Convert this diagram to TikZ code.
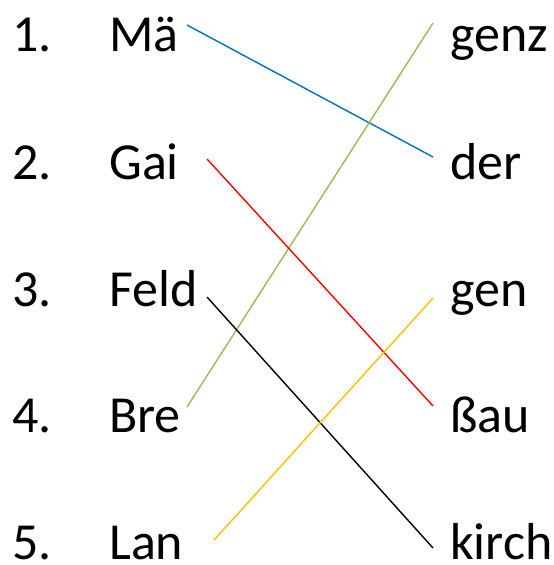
\documentclass[tikz,border=0pt]{standalone}
\usepackage{fontspec}
\setmainfont{Carlito}
\begin{document}
\begin{tikzpicture}[x=1bp,y=-1bp,
  lbl/.style={anchor=base west,inner sep=0pt,font=\fontsize{52bp}{60bp}\selectfont},
  conn/.style={line width=1.4bp}]
\useasboundingbox (0,0) rectangle (554,565);
\definecolor{cblue}{HTML}{0070C0}
\definecolor{cgreen}{HTML}{9BBB59}
\definecolor{cred}{HTML}{FF0000}
\definecolor{cyellow}{HTML}{FFC000}
% numbers
\node[lbl] (n1) at (12,52) {1.};
\node[lbl] (n2) at (12,179) {2.};
\node[lbl] (n3) at (12,306) {3.};
\node[lbl] (n4) at (12,432) {4.};
\node[lbl] (n5) at (12,559) {5.};
% left words
\node[lbl] (l1) at (109,52) {Mä};
\node[lbl] (l2) at (109,179) {Gai};
\node[lbl] (l3) at (109,306) {Feld};
\node[lbl] (l4) at (109,432) {Bre};
\node[lbl] (l5) at (109,559) {Lan};
% right words
\node[lbl] (r1) at (450,52) {genz};
\node[lbl] (r2) at (450,179) {der};
\node[lbl] (r3) at (450,306) {gen};
\node[lbl] (r4) at (450,432) {ßau};
\node[lbl] (r5) at (450,559) {kirch};
% connector end points
\coordinate (a1) at (187,25);
\coordinate (a2) at (207,159);
\coordinate (a3) at (207,297);
\coordinate (a4) at (187,407);
\coordinate (a5) at (214,540);
\coordinate (b1) at (433,23);
\coordinate (b2) at (433,157);
\coordinate (b3) at (433,298);
\coordinate (b4) at (433,406);
\coordinate (b5) at (433,548);
% connectors
\draw[conn,cblue] (a1) -- (b2);
\draw[conn,cgreen] (a4) -- (b1);
\draw[conn,cred] (a2) -- (b4);
\draw[conn,black] (a3) -- (b5);
\draw[conn,cyellow] (a5) -- (b3);
\end{tikzpicture}
\end{document}
